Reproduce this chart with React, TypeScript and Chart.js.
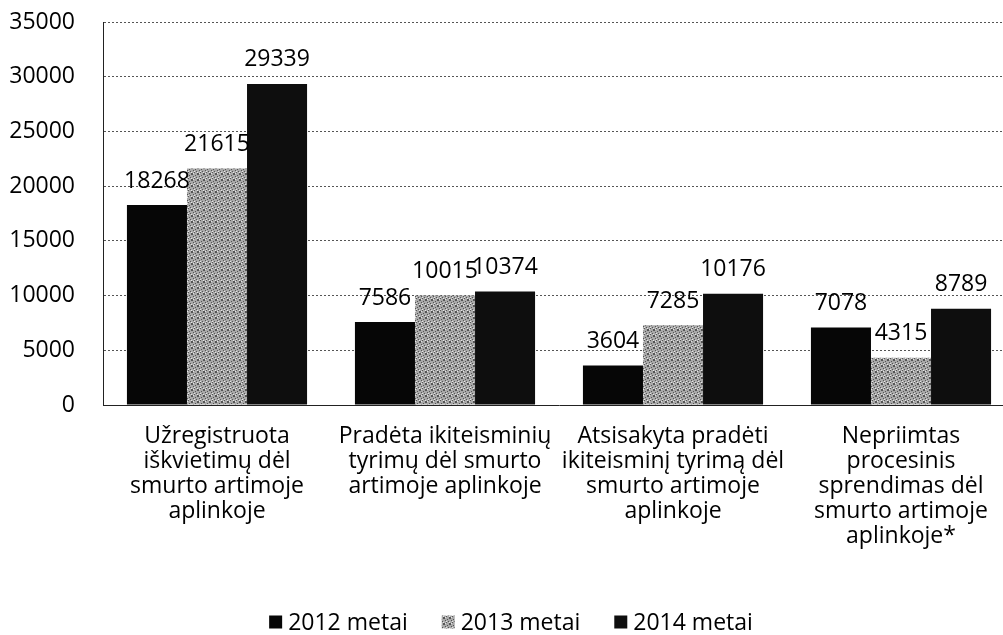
import React, { useEffect, useRef } from "react";
import { Chart, registerables } from "chart.js";

Chart.register(...registerables);

const categories: string[][] = [
  ["Užregistruota", "iškvietimų dėl", "smurto artimoje", "aplinkoje"],
  ["Pradėta ikiteisminių", "tyrimų dėl smurto", "artimoje aplinkoje"],
  ["Atsisakyta pradėti", "ikiteisminį tyrimą dėl", "smurto artimoje", "aplinkoje"],
  ["Nepriimtas", "procesinis", "sprendimas dėl", "smurto artimoje", "aplinkoje*"],
];
const seriesLabels = ["2012 metai", "2013 metai", "2014 metai"];
const values2012 = [18268, 7586, 3604, 7078];
const values2013 = [21615, 10015, 7285, 4315];
const values2014 = [29339, 10374, 10176, 8789];
const yMin = 0;
const yMax = 35000;
const yStep = 5000;

const FONT = "'Open Sans', sans-serif";
const CANVAS_W = 1017;
const CANVAS_H = 635;

function makePattern(): CanvasPattern | string {
  const c = document.createElement("canvas");
  c.width = 6;
  c.height = 6;
  const ctx = c.getContext("2d");
  if (!ctx) return "#a0a0a0";
  ctx.fillStyle = "#a9a9a9";
  ctx.fillRect(0, 0, 6, 6);
  for (let i = 0; i < 6; i++) {
    for (let j = 0; j < 6; j++) {
      if ((i + 2 * j) % 5 === 0) {
        ctx.fillStyle = "#555555";
        ctx.fillRect(i, j, 1, 1);
      } else if ((2 * i + j) % 7 === 0) {
        ctx.fillStyle = "#e6e6e6";
        ctx.fillRect(i, j, 1, 1);
      }
    }
  }
  const p = ctx.createPattern(c, "repeat");
  return p || "#a0a0a0";
}

const dataLabelPlugin = {
  id: "dataLabels",
  afterDatasetsDraw(chart: any) {
    const ctx = chart.ctx;
    ctx.save();
    ctx.font = `23px ${FONT}`;
    ctx.fillStyle = "#000";
    ctx.textAlign = "center";
    ctx.textBaseline = "middle";
    chart.data.datasets.forEach((ds: any, di: number) => {
      const meta = chart.getDatasetMeta(di);
      meta.data.forEach((el: any, i: number) => {
        ctx.fillText(String(ds.data[i]), el.x, el.y - 24);
      });
    });
    ctx.restore();
  },
};

const legendPlugin = {
  id: "customLegend",
  afterDraw(chart: any) {
    const ctx = chart.ctx;
    ctx.save();
    ctx.font = `23px ${FONT}`;
    ctx.textBaseline = "middle";
    ctx.textAlign = "left";
    const box = 13;
    const gapText = 6;
    const gapItem = 34;
    const ds = chart.data.datasets;
    const widths = ds.map((d: any) => box + gapText + ctx.measureText(d.label).width);
    const total = widths.reduce((a: number, b: number) => a + b, 0) + gapItem * (ds.length - 1);
    let x = 511 - total / 2;
    const y = 622;
    ds.forEach((d: any, i: number) => {
      ctx.fillStyle = d.backgroundColor;
      ctx.fillRect(x, y - box / 2, box, box);
      ctx.fillStyle = "#000";
      ctx.fillText(d.label, x + box + gapText, y + 1);
      x += widths[i] + gapItem;
    });
    ctx.restore();
  },
};

export default function App() {
  const ref = useRef<HTMLCanvasElement | null>(null);

  useEffect(() => {
    document.body.style.margin = "0";
    document.body.style.overflow = "hidden";
    const canvas = ref.current;
    if (!canvas) return;
    const pattern = makePattern();
    const chart = new Chart(canvas, {
      type: "bar",
      data: {
        labels: categories,
        datasets: [
          { label: seriesLabels[0], data: values2012, backgroundColor: "#060606", borderWidth: 0 },
          { label: seriesLabels[1], data: values2013, backgroundColor: pattern as any, borderWidth: 0 },
          { label: seriesLabels[2], data: values2014, backgroundColor: "#0e0e0e", borderWidth: 0 },
        ],
      },
      options: {
        responsive: false,
        animation: false,
        devicePixelRatio: 1,
        layout: { padding: { top: 22, left: 0, right: 2, bottom: 0 } },
        datasets: { bar: { categoryPercentage: 0.79, barPercentage: 1.0 } },
        plugins: {
          legend: { display: false },
          tooltip: { enabled: false },
          title: { display: false },
        },
        scales: {
          x: {
            grid: { display: false, drawTicks: false },
            border: { display: true, color: "#222", width: 1 },
            ticks: {
              color: "#000",
              font: { family: FONT, size: 23, lineHeight: 25 / 23 },
              padding: 19,
              maxRotation: 0,
              minRotation: 0,
              autoSkip: false,
            },
            afterFit: (scale: any) => {
              scale.height = 230;
            },
          },
          y: {
            min: yMin,
            max: yMax,
            ticks: {
              stepSize: yStep,
              color: "#000",
              font: { family: FONT, size: 23 },
              padding: 28,
              callback: (v: any) => String(v),
            },
            grid: { color: "#555", lineWidth: 1, drawTicks: false },
            border: { display: true, color: "#222", width: 1, dash: [2, 2] },
            afterFit: (scale: any) => {
              scale.width = 103;
              scale.paddingTop = 0;
              scale.paddingBottom = 0;
            },
          },
        },
      },
      plugins: [dataLabelPlugin, legendPlugin],
    });
    if ((document as any).fonts && (document as any).fonts.load) {
      (document as any).fonts.load(`23px 'Open Sans'`).then(() => chart.update()).catch(() => {});
    }
    return () => chart.destroy();
  }, []);

  return (
    <div style={{ position: "fixed", left: 0, top: 0, width: 1003, height: 635, overflow: "hidden", background: "#fff" }}>
      <canvas ref={ref} width={CANVAS_W} height={CANVAS_H} style={{ display: "block", width: CANVAS_W, height: CANVAS_H }} />
    </div>
  );
}
